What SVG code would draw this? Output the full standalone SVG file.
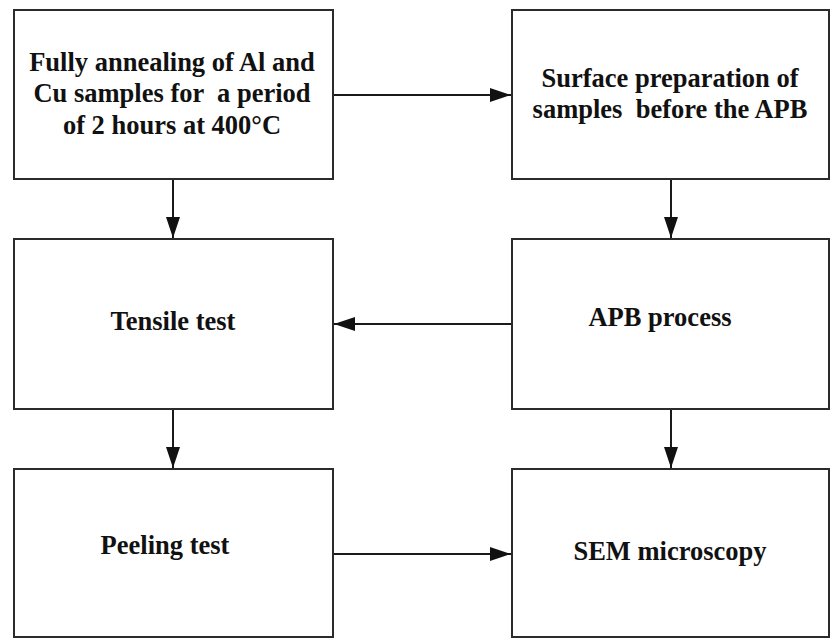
<svg xmlns="http://www.w3.org/2000/svg" width="830" height="638" viewBox="0 0 830 638">
  <style>
    .box { fill: #ffffff; stroke: #2b2b2b; stroke-width: 2; }
    .lbl { font-family: "Liberation Serif", "Times New Roman", serif; font-weight: bold; font-size: 26.5px; fill: #111111; text-anchor: middle; white-space: pre; }
    .edge { stroke: #1a1a1a; stroke-width: 2; fill: none; marker-end: url(#arrow); }
  </style>
  <defs>
    <marker id="arrow" markerUnits="userSpaceOnUse" markerWidth="22" markerHeight="16" refX="21" refY="7" orient="auto">
      <path d="M0,0 L21,7 L0,14 Z" fill="#111111"/>
    </marker>
  </defs>
  <rect width="830" height="638" fill="#ffffff"/>

  <g id="connectors">
    <line class="edge" x1="333" y1="95" x2="511" y2="95"/>
    <line class="edge" x1="173" y1="179" x2="173" y2="238"/>
    <line class="edge" x1="671" y1="179" x2="671" y2="238"/>
    <line class="edge" x1="512" y1="324" x2="334" y2="324"/>
    <line class="edge" x1="173" y1="409" x2="173" y2="468"/>
    <line class="edge" x1="671" y1="409" x2="671" y2="468"/>
    <line class="edge" x1="333" y1="554" x2="511" y2="554"/>
  </g>

  <g id="annealing">
    <rect class="box" x="14" y="10" width="319" height="169"/>
    <text class="lbl" x="172" y="71">Fully annealing of Al and</text>
    <text class="lbl" x="172" y="102">Cu samples for  a period</text>
    <text class="lbl" x="172" y="134">of 2 hours at 400°C</text>
  </g>

  <g id="surface-prep">
    <rect class="box" x="512" y="10" width="317" height="169"/>
    <text class="lbl" x="670" y="87">Surface preparation of</text>
    <text class="lbl" x="670" y="118">samples  before the APB</text>
  </g>

  <g id="tensile">
    <rect class="box" x="14" y="239" width="319" height="170"/>
    <text class="lbl" x="173" y="330">Tensile test</text>
  </g>

  <g id="apb">
    <rect class="box" x="512" y="239" width="317" height="170"/>
    <text class="lbl" x="660" y="326">APB process</text>
  </g>

  <g id="peeling">
    <rect class="box" x="14" y="469" width="319" height="168"/>
    <text class="lbl" x="165" y="554">Peeling test</text>
  </g>

  <g id="sem">
    <rect class="box" x="512" y="469" width="317" height="168"/>
    <text class="lbl" x="670" y="560">SEM microscopy</text>
  </g>
</svg>
